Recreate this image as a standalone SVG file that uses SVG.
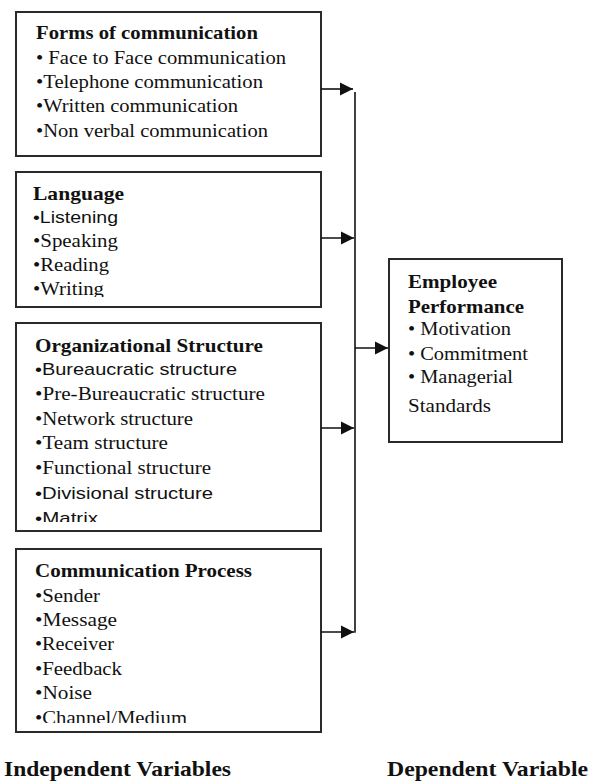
<svg xmlns="http://www.w3.org/2000/svg" width="592" height="781" viewBox="0 0 592 781">
<style>
.box{fill:#fff;stroke:#2a2a2a;stroke-width:2}
.t{font-family:"Liberation Serif","Times New Roman",serif;font-size:19px;fill:#111}
.b{font-weight:bold}
.s{font-family:"Liberation Sans",Arial,sans-serif;font-size:17px}
.c{stroke:#111;stroke-width:1.6;fill:none}
</style>
<defs>
<marker id="ah" markerUnits="userSpaceOnUse" markerWidth="14" markerHeight="14" viewBox="0 0 14 14" refX="13" refY="7" orient="auto">
<path d="M0,0.5 L13,7 L0,13.5 Z" fill="#111"/>
</marker>
<clipPath id="c2"><rect x="16" y="172" width="305" height="125"/></clipPath>
<clipPath id="c3"><rect x="16" y="323" width="305" height="199"/></clipPath>
<clipPath id="c4"><rect x="16" y="549" width="305" height="174"/></clipPath>
</defs>
<rect width="592" height="781" fill="#fff"/>

<g id="forms">
<rect class="box" x="16" y="12" width="305" height="144"/>
<text class="t b" x="36" y="39" textLength="222" lengthAdjust="spacingAndGlyphs">Forms of communication</text>
<text class="t" x="36" y="64" textLength="250" lengthAdjust="spacingAndGlyphs">• Face to Face communication</text>
<text class="t" x="36" y="88" textLength="227" lengthAdjust="spacingAndGlyphs">•Telephone communication</text>
<text class="t" x="36" y="112" textLength="202" lengthAdjust="spacingAndGlyphs">•Written communication</text>
<text class="t" x="36" y="137" textLength="232" lengthAdjust="spacingAndGlyphs">•Non verbal communication</text>
</g>

<g id="language">
<rect class="box" x="16" y="172" width="305" height="135"/>
<g clip-path="url(#c2)">
<text class="t b" x="33" y="200" textLength="91" lengthAdjust="spacingAndGlyphs">Language</text>
<text class="t s" x="33" y="223" textLength="85" lengthAdjust="spacingAndGlyphs">•Listening</text>
<text class="t" x="33" y="247" textLength="85" lengthAdjust="spacingAndGlyphs">•Speaking</text>
<text class="t" x="33" y="271" textLength="76" lengthAdjust="spacingAndGlyphs">•Reading</text>
<text class="t" x="33" y="295" textLength="71" lengthAdjust="spacingAndGlyphs">•Writing</text>
</g>
</g>

<g id="org">
<rect class="box" x="16" y="323" width="305" height="208"/>
<g clip-path="url(#c3)">
<text class="t b" x="35" y="352" textLength="228" lengthAdjust="spacingAndGlyphs">Organizational Structure</text>
<text class="t s" x="35" y="375" textLength="202" lengthAdjust="spacingAndGlyphs">•Bureaucratic structure</text>
<text class="t" x="35" y="400" textLength="230" lengthAdjust="spacingAndGlyphs">•Pre-Bureaucratic  structure</text>
<text class="t" x="35" y="425" textLength="158" lengthAdjust="spacingAndGlyphs">•Network structure</text>
<text class="t" x="35" y="449" textLength="133" lengthAdjust="spacingAndGlyphs">•Team  structure</text>
<text class="t" x="35" y="474" textLength="176" lengthAdjust="spacingAndGlyphs">•Functional  structure</text>
<text class="t s" x="35" y="499" textLength="178" lengthAdjust="spacingAndGlyphs">•Divisional structure</text>
<text class="t s" x="35" y="524" textLength="63" lengthAdjust="spacingAndGlyphs">•Matrix</text>
</g>
</g>

<g id="process">
<rect class="box" x="16" y="549" width="305" height="183"/>
<g clip-path="url(#c4)">
<text class="t b" x="35" y="577" textLength="217" lengthAdjust="spacingAndGlyphs">Communication Process</text>
<text class="t" x="35" y="602" textLength="65" lengthAdjust="spacingAndGlyphs">•Sender</text>
<text class="t" x="35" y="626" textLength="82" lengthAdjust="spacingAndGlyphs">•Message</text>
<text class="t" x="35" y="650" textLength="79" lengthAdjust="spacingAndGlyphs">•Receiver</text>
<text class="t" x="35" y="675" textLength="87" lengthAdjust="spacingAndGlyphs">•Feedback</text>
<text class="t" x="35" y="699" textLength="57" lengthAdjust="spacingAndGlyphs">•Noise</text>
<text class="t" x="35" y="724" textLength="152" lengthAdjust="spacingAndGlyphs">•Channel/Medium</text>
</g>
</g>

<g id="performance">
<rect class="box" x="389" y="259" width="173" height="183"/>
<text class="t b" x="408" y="288" textLength="89" lengthAdjust="spacingAndGlyphs">Employee</text>
<text class="t b" x="408" y="313" textLength="116" lengthAdjust="spacingAndGlyphs">Performance</text>
<text class="t" x="408" y="335" textLength="103" lengthAdjust="spacingAndGlyphs">• Motivation</text>
<text class="t" x="408" y="360" textLength="120" lengthAdjust="spacingAndGlyphs">• Commitment</text>
<text class="t" x="408" y="383" textLength="105" lengthAdjust="spacingAndGlyphs">• Managerial</text>
<text class="t" x="408" y="412" textLength="83" lengthAdjust="spacingAndGlyphs">Standards</text>
</g>

<g id="labels">
<text class="t b" x="4" y="776" font-size="21" style="font-size:21px" textLength="227" lengthAdjust="spacingAndGlyphs">Independent Variables</text>
<text class="t b" x="387" y="776" style="font-size:21px" textLength="201" lengthAdjust="spacingAndGlyphs">Dependent Variable</text>
</g>

<g id="connectors">
<line class="c" x1="321" y1="89" x2="353" y2="89" marker-end="url(#ah)"/>
<line class="c" x1="321" y1="238" x2="354" y2="238" marker-end="url(#ah)"/>
<line class="c" x1="321" y1="428" x2="354" y2="428" marker-end="url(#ah)"/>
<line class="c" x1="321" y1="632" x2="354" y2="632" marker-end="url(#ah)"/>
<line class="c" x1="355" y1="92" x2="355" y2="632.8"/>
<line class="c" x1="355" y1="348" x2="388" y2="348" marker-end="url(#ah)"/>
</g>
</svg>
